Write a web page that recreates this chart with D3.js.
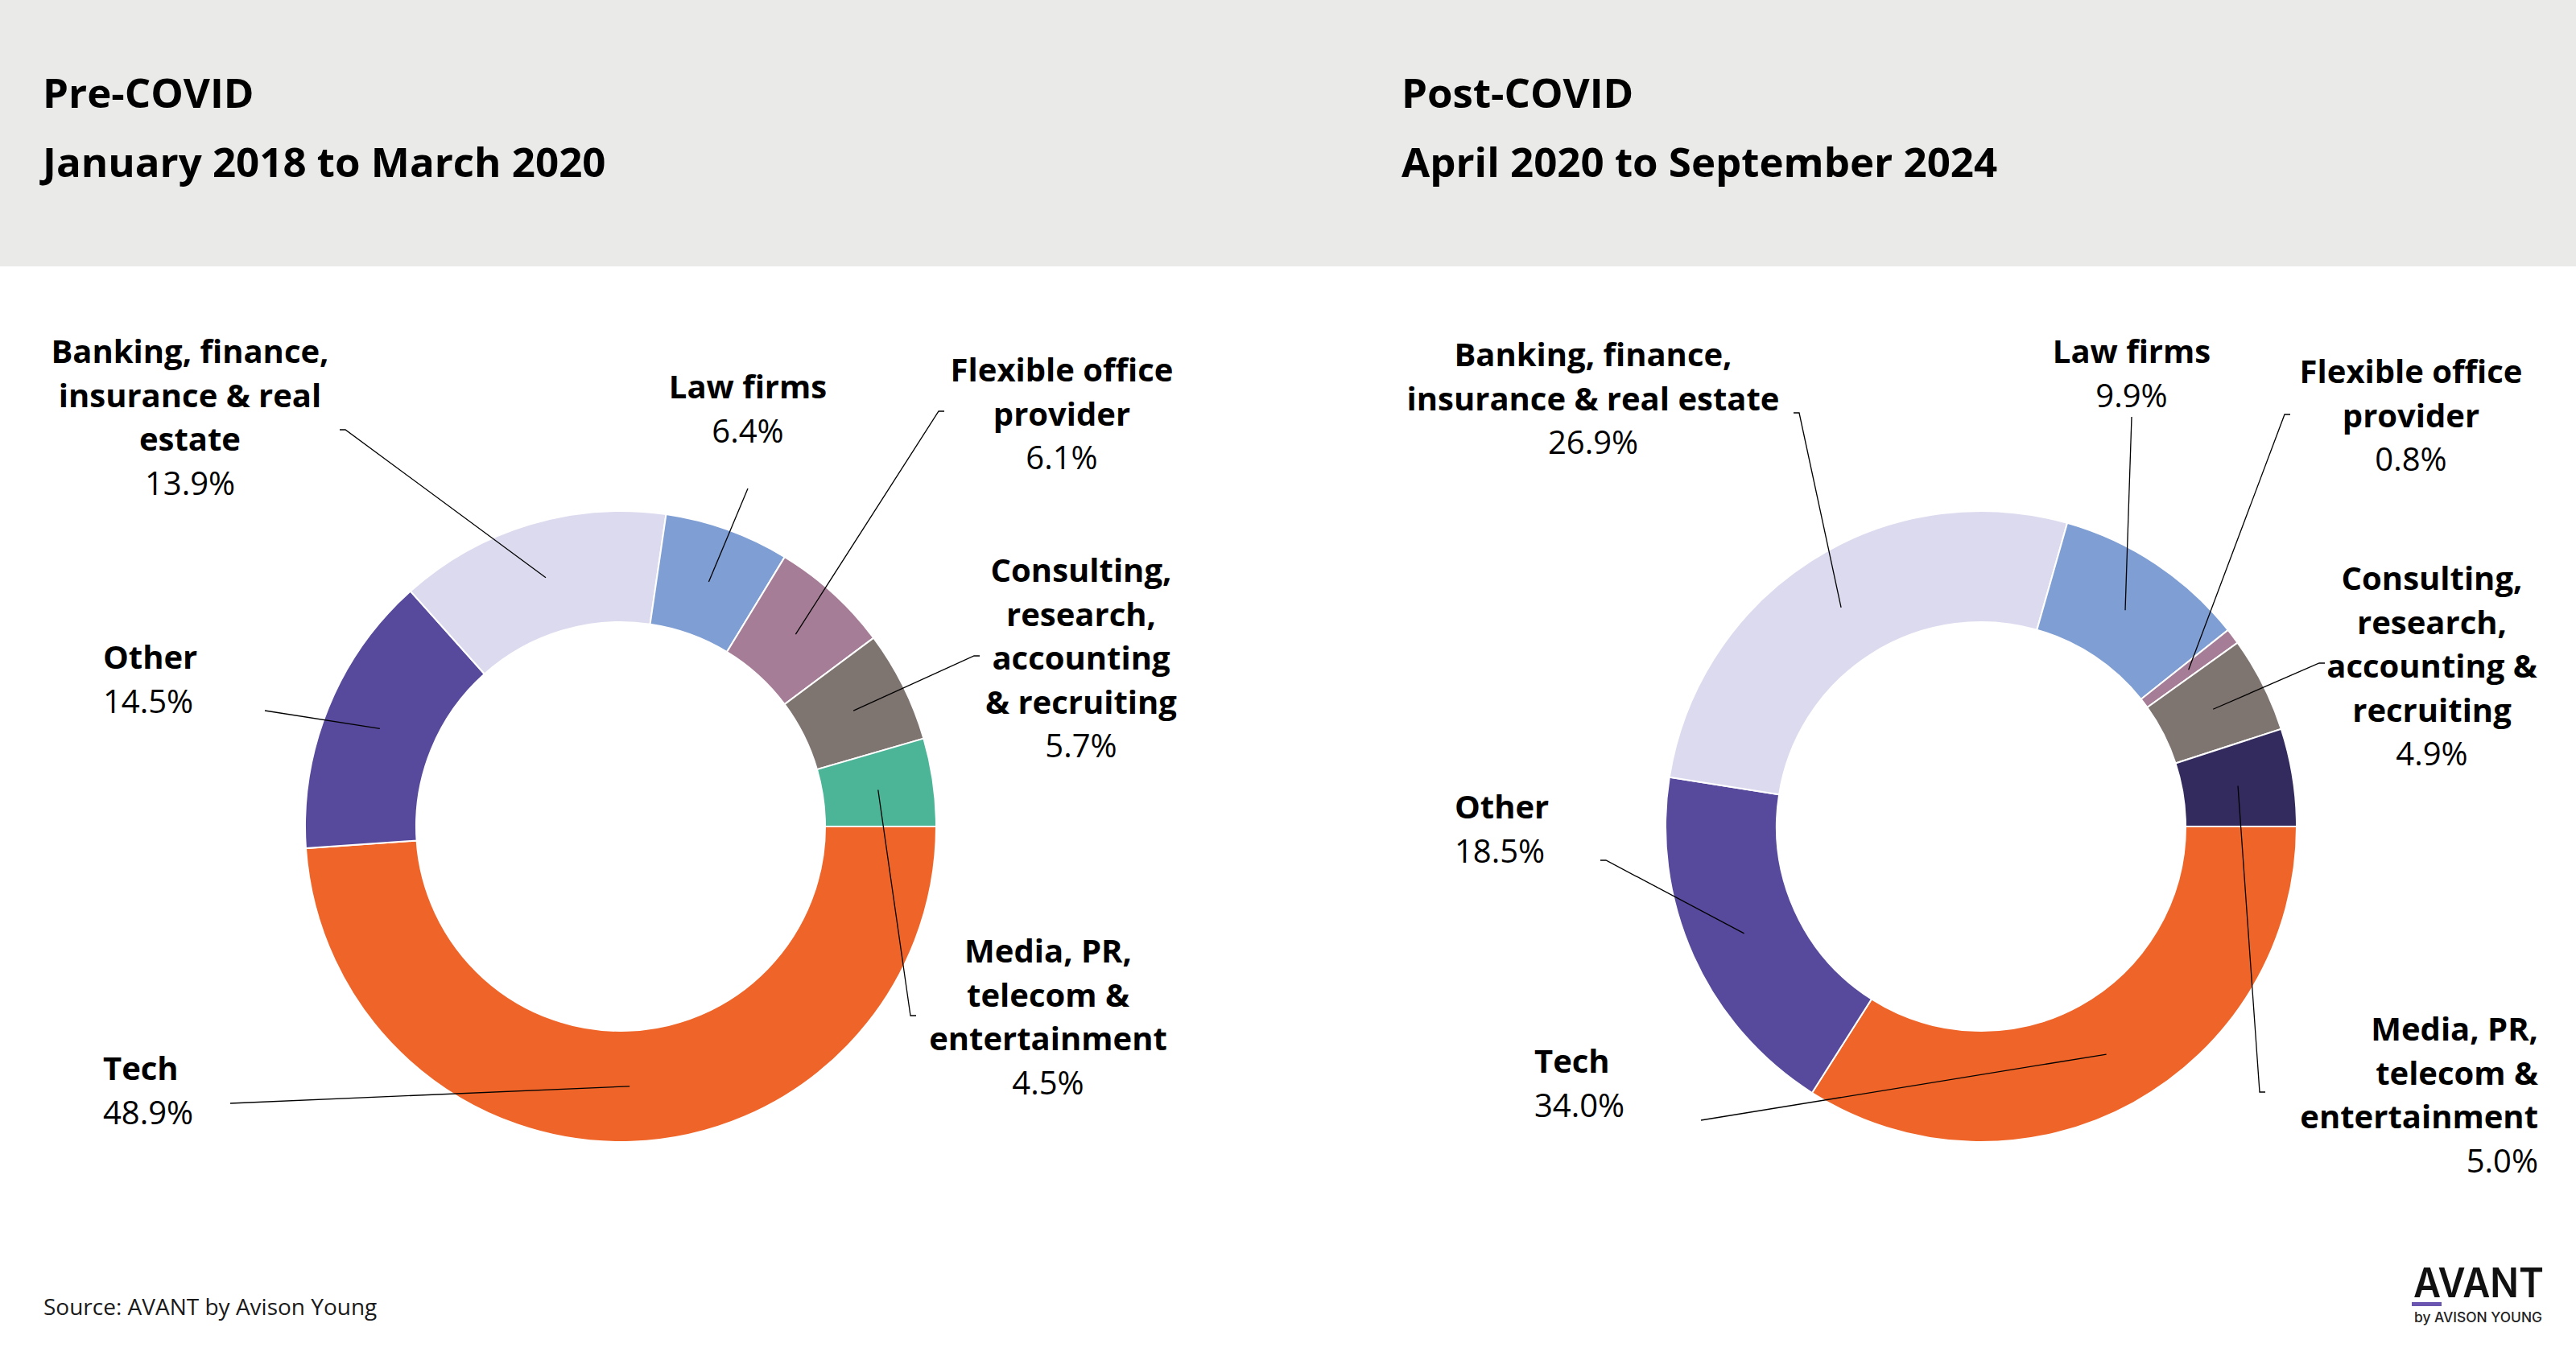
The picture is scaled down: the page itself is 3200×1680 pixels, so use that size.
<!DOCTYPE html>
<html>
<head>
<meta charset="utf-8">
<script src="https://cdn.jsdelivr.net/npm/d3@7"></script>
<style>
  html, body { margin: 0; padding: 0; background: #fff; }
  svg { display: block; }
</style>
</head>
<body>
<svg id="chart"></svg>
<script>
// data
const categories = ['Tech', 'Other', 'Banking, finance, insurance & real estate', 'Law firms',
  'Flexible office provider', 'Consulting, research, accounting & recruiting', 'Media, PR, telecom & entertainment']
const preValues = [48.9, 14.5, 13.9, 6.4, 6.1, 5.7, 4.5]
const postValues = [34.0, 18.5, 26.9, 9.9, 0.8, 4.9, 5.0]
const preLabels = [['Tech'], ['Other'], ['Banking, finance,', 'insurance & real', 'estate'], ['Law firms'],
  ['Flexible office', 'provider'], ['Consulting,', 'research,', 'accounting', '& recruiting'],
  ['Media, PR,', 'telecom &', 'entertainment']]
const postLabels = [['Tech'], ['Other'], ['Banking, finance,', 'insurance & real estate'], ['Law firms'],
  ['Flexible office', 'provider'], ['Consulting,', 'research,', 'accounting &', 'recruiting'],
  ['Media, PR,', 'telecom &', 'entertainment']]
const preColors = ['#ef6529', '#574a9c', '#dcdaee', '#7f9ed3', '#a67d96', '#7e7470', '#4db597']
const postColors = ['#ef6529', '#574a9c', '#dcdaee', '#7f9ed3', '#a67d96', '#7e7470', '#332a5e']

const W = 3200, H = 1680
const svg = d3.select('#chart').attr('width', W).attr('height', H)
  .style('font-family', "'Open Sans', sans-serif")

// header band
svg.append('rect').attr('width', W).attr('height', 331).attr('fill', '#eaeae8')

const titles = [
  { x: 53, lines: ['Pre-COVID', 'January 2018 to March 2020'] },
  { x: 1741, lines: ['Post-COVID', 'April 2020 to September 2024'] }
]
titles.forEach((t) => {
  svg.append('g').selectAll('text').data(t.lines).join('text')
    .attr('x', t.x).attr('y', (d, i) => 134 + i * 86)
    .attr('font-size', 51).attr('font-weight', 700).attr('fill', '#000')
    .text((d) => d)
})

const rOuter = 392, rInner = 254
const pie = d3.pie().sort(null).value((d) => d)
  .startAngle(Math.PI / 2).endAngle(Math.PI / 2 + 2 * Math.PI)
const arc = d3.arc().innerRadius(rInner).outerRadius(rOuter)
const fmt = (v) => d3.format('.1f')(v) + '%'

// label layout: anchor, x, first baseline, leader end, optional tick direction
const preLayout = [
  { anchor: 'start', x: 128, y: 1342, lx: 286, ly: 1371, tick: 0 },
  { anchor: 'start', x: 128, y: 831, lx: 329, ly: 883, tick: 0 },
  { anchor: 'middle', x: 236, y: 451, lx: 429, ly: 534, tick: -7 },
  { anchor: 'middle', x: 929, y: 495, lx: 929, ly: 607, tick: 0 },
  { anchor: 'middle', x: 1319, y: 474, lx: 1166, ly: 511, tick: 7 },
  { anchor: 'middle', x: 1343, y: 723, lx: 1210, ly: 815, tick: 7 },
  { anchor: 'middle', x: 1302, y: 1196, lx: 1131, ly: 1262, tick: 7 }
]
const postLayout = [
  { anchor: 'start', x: 1906, y: 1333, lx: 2113, ly: 1392, tick: 0 },
  { anchor: 'start', x: 1807, y: 1017, lx: 1995, ly: 1069, tick: -7 },
  { anchor: 'middle', x: 1979, y: 455, lx: 2235, ly: 513, tick: -7 },
  { anchor: 'middle', x: 2648, y: 451, lx: 2648, ly: 518, tick: 0 },
  { anchor: 'middle', x: 2995, y: 476, lx: 2838, ly: 515, tick: 7 },
  { anchor: 'middle', x: 3021, y: 733, lx: 2881, ly: 824, tick: 7 },
  { anchor: 'end', x: 3153, y: 1293, lx: 2807, ly: 1357, tick: 7 }
]

const drawDonut = (cx, cy, values, labels, colors, layout) => {
  const arcs = pie(values)
  const g = svg.append('g').attr('transform', `translate(${cx},${cy})`)
  g.selectAll('path').data(arcs).join('path')
    .attr('d', arc)
    .attr('fill', (d, i) => colors[i])
    .attr('stroke', '#fff').attr('stroke-width', 2)

  // leader lines from slice centroid to label
  svg.append('g').selectAll('path').data(arcs).join('path')
    .attr('fill', 'none').attr('stroke', '#000').attr('stroke-width', 1.3)
    .attr('d', (d, i) => {
      const c = arc.centroid(d)
      const L = layout[i]
      let p = `M${cx + c[0]},${cy + c[1]}L${L.lx},${L.ly}`
      if (L.tick) p += `L${L.lx + L.tick},${L.ly}`
      return p
    })

  const lh = 54.5
  const lab = svg.append('g').selectAll('text').data(arcs).join('text')
    .attr('text-anchor', (d, i) => layout[i].anchor)
    .attr('font-size', 40).attr('fill', '#000')
  lab.each(function (d, i) {
    const L = layout[i]
    const t = d3.select(this)
    labels[i].forEach((line, k) => {
      t.append('tspan').attr('x', L.x).attr('y', L.y + k * lh)
        .attr('font-weight', 700).text(line)
    })
    t.append('tspan').attr('x', L.x).attr('y', L.y + labels[i].length * lh)
      .attr('font-weight', 400).text(fmt(values[i]))
  })
}

drawDonut(771, 1027, preValues, preLabels, preColors, preLayout)
drawDonut(2461, 1027, postValues, postLabels, postColors, postLayout)

// footer
svg.append('text').attr('x', 54).attr('y', 1634)
  .attr('font-size', 28).attr('fill', '#1a1a1a')
  .text('Source: AVANT by Avison Young')

const logo = svg.append('g').style('font-family', "'Inter', sans-serif")
logo.append('text').attr('x', 2998).attr('y', 1612)
  .attr('font-size', 51).attr('font-weight', 600).attr('fill', '#111')
  .attr('textLength', 162).attr('lengthAdjust', 'spacingAndGlyphs')
  .text('AVANT')
logo.append('rect').attr('x', 2996).attr('y', 1618).attr('width', 37).attr('height', 5)
  .attr('fill', '#6a55b0')
logo.append('text').attr('x', 2999).attr('y', 1643)
  .attr('font-size', 17).attr('font-weight', 500).attr('fill', '#222')
  .attr('textLength', 159).attr('lengthAdjust', 'spacingAndGlyphs')
  .text('by AVISON YOUNG')
</script>
</body>
</html>
